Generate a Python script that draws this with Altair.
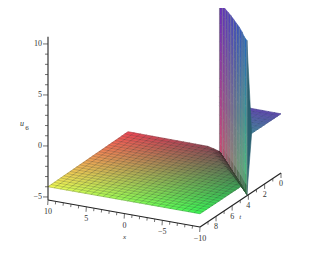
import altair as alt
import numpy as np
import pandas as pd

# ---- values ----
x_ticks = [10, 5, 0, -5, -10]
t_ticks = [0, 2, 4, 6, 8]
u_ticks = [10, 5, 0, -5]
floor_u = -4.0
tail_u = 0.5
ridge_t = [0.0, 0.4, 0.8, 1.2, 1.6, 2.0, 2.4, 2.8, 3.2, 3.6, 4.0]
ridge_x = [-1.9, -2.7, -3.5, -4.3, -5.1, -5.9, -6.7, -7.5, -8.3, -9.0, -9.8]
wall_top = [10.05, 10.24, 10.34, 10.34, 10.33, 10.28, 10.22, 10.17, 10.01, 9.87, 9.8]
wall_foot = [-4.3, -4.4, -4.5, -4.6, -4.7, -4.8, -4.9, -5.0, -5.1, -5.2, -5.3]
corner_far_bottom = (210, 70, 115)
corner_far_top = (105, 45, 185)
corner_near_bottom = (70, 205, 115)
corner_near_top = (35, 105, 185)

# scene -> picture: floor corners of the box at u = -5.3
src = [(10, 10), (-10, 10), (-10, 0), (10, 0)]
dst = [(48, 200), (200, 227), (281, 173), (128, 145)]
A, b = [], []
for (a, c), (p, q) in zip(src, dst):
    A.append([a, c, 1, 0, 0, 0, -a * p, -c * p]); b.append(p)
    A.append([0, 0, 0, a, c, 1, -a * q, -c * q]); b.append(q)
h = np.linalg.solve(np.array(A, float), np.array(b, float))
U_BASE, U_K = -5.3, 10.2


def proj(x, t, u=U_BASE):
    w = h[6] * x + h[7] * t + 1
    px = (h[0] * x + h[1] * t + h[2]) / w
    py = (h[3] * x + h[4] * t + h[5]) / w
    return px, py - (u - U_BASE) * U_K


def hexc(rgb):
    return "#%02x%02x%02x" % tuple(int(np.clip(v, 0, 255)) for v in rgb)


def ridge(t):
    if t <= ridge_t[-1]:
        return float(np.interp(t, ridge_t, ridge_x))
    return ridge_x[-1] - (t - ridge_t[-1]) * 2.0


def foot(t):
    return float(np.interp(t, ridge_t, wall_foot))


polys, grid = [], []
pid = 0


def add_poly(corners, color, layer):
    global pid
    pid += 1
    for i, (x, t, u) in enumerate(corners + corners[:1]):
        px, py = proj(x, t, u)
        polys.append(dict(px=px, py=py, k=i, id=pid, c=color, layer=layer))


def add_grid(points, layer, gid):
    for i, (x, t, u) in enumerate(points):
        px, py = proj(x, t, u)
        grid.append(dict(px=px, py=py, k=i, id=f"{layer}{gid}", layer=layer))


# floor mesh: 25 x 25 cells
xs = np.linspace(10, -10, 26)
ts = np.linspace(0, 10, 26)
DIP = 1.4


def floor_node(x, t):
    r = ridge(t)
    xc = max(x, r)
    d = xc - r
    uu = floor_u
    shade = 1.0
    if d < DIP:
        uu = floor_u + (foot(t) - floor_u) * (1 - d / DIP)
        shade = 0.62 + 0.38 * d / DIP
    return xc, t, uu, shade


def floor_color(x, t, shade):
    rr = 60 + (x + 10) / 20 * 180
    gg = 70 + t / 10 * 180
    return hexc((rr * shade, gg * shade, 85 * shade))


for j in range(25):
    for i in range(25):
        nodes = [floor_node(xs[i], ts[j]), floor_node(xs[i + 1], ts[j]),
                 floor_node(xs[i + 1], ts[j + 1]), floor_node(xs[i], ts[j + 1])]
        xm = np.mean([n[0] for n in nodes])
        tm = np.mean([n[1] for n in nodes])
        sm = np.mean([n[3] for n in nodes])
        add_poly([n[:3] for n in nodes], floor_color(xm, tm, sm), 3)

for j, t in enumerate(ts):
    add_grid([floor_node(x, t)[:3] for x in xs], "floor", f"r{j}")
for i, x in enumerate(xs):
    pts = [floor_node(x, t)[:3] for t in ts if x >= ridge(t)]
    if len(pts) > 1:
        add_grid(pts, "floor", f"c{i}")

# tail behind the wall: between x=-10 and the ridge
tail_ts = [t for t in ts if t <= 3.7]
for j in range(len(tail_ts) - 1):
    t0, t1 = tail_ts[j], tail_ts[j + 1]
    r0, r1 = ridge(t0), ridge(t1)
    for i in range(25):
        a0, a1 = min(xs[i], r0), min(xs[i + 1], r0)
        b0, b1 = min(xs[i], r1), min(xs[i + 1], r1)
        if a0 <= a1 + 1e-9 and b0 <= b1 + 1e-9:
            continue
        tm = (t0 + t1) / 2
        col = hexc((95 - tm * 8, 72 + tm * 17, 172 - tm * 5))
        add_poly([(a0, t0, tail_u), (a1, t0, tail_u), (b1, t1, tail_u), (b0, t1, tail_u)], col, 0)
for j, t in enumerate(tail_ts):
    r = ridge(t)
    add_grid([(min(x, r), t, tail_u) for x in xs], "tail", f"r{j}")
for i, x in enumerate(xs):
    pts = [(x, t, tail_u) for t in tail_ts if x <= ridge(t)]
    if len(pts) > 1:
        add_grid(pts, "tail", f"c{i}")

# back of the sheet at the near end of the wall
add_poly([(ridge_x[-1], 4.0, wall_top[-1]), (-10, 3.6, tail_u), (ridge_x[-1], 4.0, wall_foot[-1])], "#2a6070", 1)

# wall: gradient strips
N_UP = 16
for j in range(len(ridge_t) - 1):
    tf = (j + 0.5) / (len(ridge_t) - 1)
    for n in range(N_UP):
        f0, f1 = n / N_UP, (n + 1) / N_UP
        fm = (f0 + f1) / 2
        u00 = wall_foot[j] + (wall_top[j] - wall_foot[j]) * f0
        u01 = wall_foot[j] + (wall_top[j] - wall_foot[j]) * f1
        u10 = wall_foot[j + 1] + (wall_top[j + 1] - wall_foot[j + 1]) * f0
        u11 = wall_foot[j + 1] + (wall_top[j + 1] - wall_foot[j + 1]) * f1
        bottom = (1 - tf) * np.array(corner_far_bottom) + tf * np.array(corner_near_bottom)
        top = (1 - tf) * np.array(corner_far_top) + tf * np.array(corner_near_top)
        col = (1 - fm) * bottom + fm * top
        if fm < 0.12:
            col = col * min(1.0, 0.45 + 0.55 * (fm / 0.12) + (1 - tf) * 0.4)
        add_poly([(ridge_x[j], ridge_t[j], u00), (ridge_x[j + 1], ridge_t[j + 1], u10),
                  (ridge_x[j + 1], ridge_t[j + 1], u11), (ridge_x[j], ridge_t[j], u01)], hexc(col), 2)
for j in range(len(ridge_t)):
    add_grid([(ridge_x[j], ridge_t[j], wall_foot[j]), (ridge_x[j], ridge_t[j], wall_top[j])], "wall", j)

poly_df = pd.DataFrame(polys)
grid_df = pd.DataFrame(grid)

X = alt.X("px:Q", scale=alt.Scale(domain=[8, 308]), axis=None)
Y = alt.Y("py:Q", scale=alt.Scale(domain=[243, 8]), axis=None)


def poly_layer(n):
    return alt.Chart(poly_df[poly_df.layer == n]).mark_line(
        strokeWidth=0.6, interpolate="linear").encode(
        x=X, y=Y, order="k:Q", detail="id:N",
        fill=alt.Fill("c:N", scale=None), stroke=alt.Stroke("c:N", scale=None))


def grid_layer(name, color, width, opacity):
    return alt.Chart(grid_df[grid_df.layer == name]).mark_line(
        color=color, strokeWidth=width, opacity=opacity).encode(x=X, y=Y, order="k:Q", detail="id:N")


# axes
axis_rows = []
for name, pts in {
    "x": [proj(10, 10), proj(-10, 10)],
    "t": [proj(-10, 10), proj(-10, 0)],
    "u": [proj(10, 10, 10.7), proj(10, 10, U_BASE)],
}.items():
    for k, (px, py) in enumerate(pts):
        axis_rows.append(dict(px=px, py=py, k=k, id=name))

tick_rows = []
for v in range(-10, 11):
    px, py = proj(v, 10)
    L = 5 if v % 5 == 0 else 3
    tick_rows += [dict(px=px, py=py, k=0, id=f"x{v}"), dict(px=px - 0.3, py=py + L, k=1, id=f"x{v}")]
for v in range(0, 10):
    px, py = proj(-10, v)
    L = 5 if v % 2 == 0 else 3
    tick_rows += [dict(px=px, py=py, k=0, id=f"t{v}"), dict(px=px, py=py + L, k=1, id=f"t{v}")]
for v in range(-5, 11):
    px, py = proj(10, 10, v)
    L = 5 if v % 5 == 0 else 3
    tick_rows += [dict(px=px, py=py, k=0, id=f"u{v}"), dict(px=px - L, py=py, k=1, id=f"u{v}")]

axis_lines = alt.Chart(pd.DataFrame(axis_rows)).mark_line(color="#222222", strokeWidth=1.1).encode(
    x=X, y=Y, order="k:Q", detail="id:N")
ticks = alt.Chart(pd.DataFrame(tick_rows)).mark_line(color="#333333", strokeWidth=0.7).encode(
    x=X, y=Y, order="k:Q", detail="id:N")


def labels(rows, size=8, **kw):
    return alt.Chart(pd.DataFrame(rows)).mark_text(
        font="Liberation Serif", fontSize=size, color="#333333", **kw).encode(x=X, y=Y, text="s:N")


def tick_text(v):
    return str(v).replace("-", "\u2212")


x_lab = labels([dict(px=proj(v, 10)[0], py=proj(v, 10)[1], s=tick_text(v)) for v in x_ticks], dy=12)
t_lab = labels([dict(px=proj(-10, v)[0], py=proj(-10, v)[1], s=tick_text(v)) for v in t_ticks], dy=11)
u_lab = labels([dict(px=proj(10, 10, v)[0], py=proj(10, 10, v)[1], s=tick_text(v)) for v in u_ticks],
               align="right", dx=-6)
x_name = labels([dict(px=proj(0, 10)[0], py=proj(0, 10)[1], s="x")], size=7, dy=13, dx=0, fontStyle="italic", baseline="bottom") if False else \
    labels([dict(px=proj(0, 10)[0], py=proj(0, 10)[1], s="x")], size=7, dy=23, fontStyle="italic")
t_name = labels([dict(px=proj(-10, 6)[0], py=proj(-10, 6)[1], s="t")], size=7, dy=11, dx=8, fontStyle="italic")
anchor = proj(10, 10, 2.2)
u_name = labels([dict(px=anchor[0], py=anchor[1], s="u")], dx=-26, fontStyle="italic")
u_sub = labels([dict(px=anchor[0], py=anchor[1], s="6")], size=7, dx=-21, dy=4)

chart = alt.layer(
    poly_layer(0), grid_layer("tail", "#223355", 0.4, 0.45),
    poly_layer(1),
    poly_layer(2), grid_layer("wall", "#8a8a8a", 1.0, 0.6),
    poly_layer(3), grid_layer("floor", "#222222", 0.55, 0.4),
    axis_lines, ticks, x_lab, t_lab, u_lab, x_name, t_name, u_name, u_sub,
).properties(width=300, height=235, padding=0, background="white",
             autosize=alt.AutoSizeParams(type="none")).configure_view(stroke=None)

chart.save("out.html", embed_options={"renderer": "svg", "actions": False})
